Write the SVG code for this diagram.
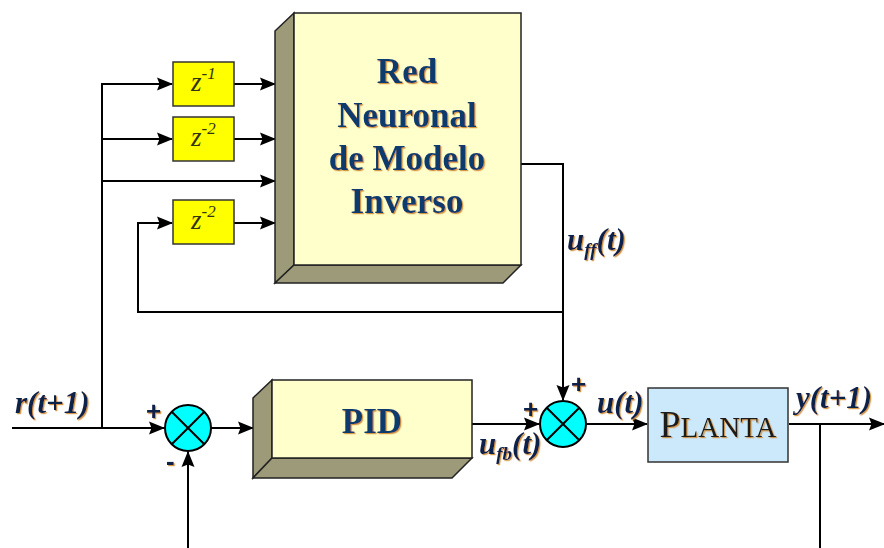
<svg xmlns="http://www.w3.org/2000/svg" width="884" height="548" viewBox="0 0 884 548">
<defs>
<marker id="arr" markerWidth="16" markerHeight="14" refX="15" refY="7" orient="auto" markerUnits="userSpaceOnUse">
<path d="M0,0.5 L16,7 L0,13.5 L2.5,7 Z" fill="#000"/>
</marker>
<filter id="sh" x="-10%" y="-10%" width="130%" height="130%">
<feDropShadow dx="1.2" dy="1.2" stdDeviation="0.6" flood-color="#d08a30" flood-opacity="0.9"/>
</filter>
</defs>
<style>
.ln{fill:none;stroke:#000;stroke-width:2}
.face{fill:#ffffcc;stroke:#222;stroke-width:1.5}
.side{fill:#9c9a78;stroke:#222;stroke-width:1.5}
.zb{fill:#ffff00;stroke:#333;stroke-width:1.5}
.zt{font-family:"Liberation Serif",serif;font-style:italic;fill:#33330f}
.big{font-family:"Liberation Serif",serif;font-weight:bold;font-size:35px;fill:#0d3b6e;text-anchor:middle}
.lab{font-family:"Liberation Serif",serif;font-weight:bold;font-style:italic;font-size:31px;fill:#10204a}
.pm{font-family:"Liberation Sans",sans-serif;font-weight:bold;font-size:26px;fill:#10204a}
.sum{fill:#00ffff;stroke:#000;stroke-width:2}
</style>
<rect width="884" height="548" fill="#fff"/>

<g id="connectors">
<polyline class="ln" points="12,428 164,428" marker-end="url(#arr)"/>
<polyline class="ln" points="102,428 102,84 172,84" marker-end="url(#arr)"/>
<polyline class="ln" points="102,139 172,139" marker-end="url(#arr)"/>
<polyline class="ln" points="102,181 275,181" marker-end="url(#arr)"/>
<polyline class="ln" points="234,84 275,84" marker-end="url(#arr)"/>
<polyline class="ln" points="234,139 275,139" marker-end="url(#arr)"/>
<polyline class="ln" points="234,223 275,223" marker-end="url(#arr)"/>
<polyline class="ln" points="563,312 138,312 138,223 172,223" marker-end="url(#arr)"/>
<polyline class="ln" points="521,164 563,164 563,400" marker-end="url(#arr)"/>
<polyline class="ln" points="211,428 253,428" marker-end="url(#arr)"/>
<polyline class="ln" points="188,548 188,452" marker-end="url(#arr)"/>
<polyline class="ln" points="472,424 539,424" marker-end="url(#arr)"/>
<polyline class="ln" points="587,424 647,424" marker-end="url(#arr)"/>
<polyline class="ln" points="789,424 884,424" marker-end="url(#arr)"/>
<polyline class="ln" points="820,424 820,548"/>
</g>

<g id="nn">
<polygon class="side" points="275,31 294,13 294,265 275,283"/>
<polygon class="side" points="275,283 294,265 521,265 503,283"/>
<rect class="face" x="294" y="13" width="227" height="252"/>
<g filter="url(#sh)">
<text class="big" x="407" y="83">Red</text>
<text class="big" x="407" y="127">Neuronal</text>
<text class="big" x="407" y="170">de Modelo</text>
<text class="big" x="407" y="213">Inverso</text>
</g>
</g>

<g id="z1">
<rect class="zb" x="173" y="62" width="61" height="44"/>
<text class="zt" x="191" y="91" font-size="27">z<tspan font-size="17" dy="-12">-1</tspan></text>
</g>
<g id="z2">
<rect class="zb" x="173" y="117" width="61" height="44"/>
<text class="zt" x="191" y="146" font-size="27">z<tspan font-size="17" dy="-12">-2</tspan></text>
</g>
<g id="z3">
<rect class="zb" x="173" y="200" width="61" height="44"/>
<text class="zt" x="191" y="229" font-size="27">z<tspan font-size="17" dy="-12">-2</tspan></text>
</g>

<g id="sum1">
<circle class="sum" cx="188" cy="428" r="23"/>
<path class="ln" d="M171.7,411.7 L204.3,444.3 M204.3,411.7 L171.7,444.3"/>
</g>
<g id="sum2">
<circle class="sum" cx="563" cy="424" r="23"/>
<path class="ln" d="M546.7,407.7 L579.3,440.3 M579.3,407.7 L546.7,440.3"/>
</g>

<g id="pid">
<polygon class="side" points="253,398 272,380 272,458 253,478"/>
<polygon class="side" points="253,478 272,458 472,458 452,478"/>
<rect class="face" x="272" y="380" width="200" height="78"/>
<text class="big" x="372" y="433" font-size="38" filter="url(#sh)">PID</text>
</g>

<g id="planta">
<rect x="648" y="388" width="140" height="74" fill="#cce8fb" stroke="#333" stroke-width="1.5"/>
<text x="718" y="437" text-anchor="middle" font-family="Liberation Serif,serif" fill="#1a1a1a" filter="url(#sh)"><tspan font-size="38">P</tspan><tspan font-size="29">LANTA</tspan></text>
</g>

<g id="labels" filter="url(#sh)">
<text class="lab" x="15" y="413">r(t+1)</text>
<text class="lab" x="796" y="408">y(t+1)</text>
<text class="lab" x="597" y="413">u(t)</text>
<text class="lab" x="567" y="250">u<tspan font-size="19" dy="6">ff</tspan><tspan dy="-6">(t)</tspan></text>
<text class="lab" x="479" y="454">u<tspan font-size="19" dy="6">fb</tspan><tspan dy="-6">(t)</tspan></text>
<text class="pm" x="146" y="420">+</text>
<text class="pm" x="166" y="470">-</text>
<text class="pm" x="523" y="418">+</text>
<text class="pm" x="571" y="393">+</text>
</g>
</svg>
